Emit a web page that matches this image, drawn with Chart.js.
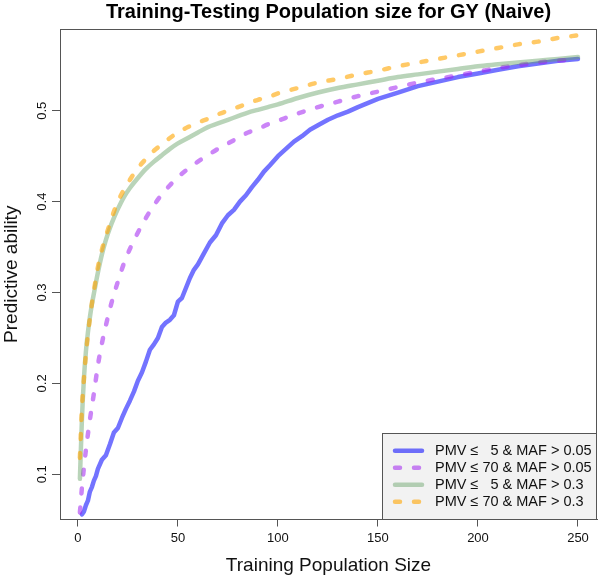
<!DOCTYPE html>
<html><head><meta charset="utf-8">
<script src="https://cdn.jsdelivr.net/npm/chart.js@4.4.1/dist/chart.umd.min.js"></script>
<style>html,body{margin:0;padding:0;background:#fff}canvas{display:block}</style>
</head><body>
<canvas id="c" width="600" height="578"></canvas>
<script>
const titleText = 'Training-Testing Population size for GY (Naive)';
const xTitle = 'Training Population Size';
const yTitle = 'Predictive ability';
const seriesLabels = ['PMV \u2264   5 & MAF > 0.05', 'PMV \u2264 70 & MAF > 0.05', 'PMV \u2264   5 & MAF > 0.3', 'PMV \u2264 70 & MAF > 0.3'];
const xTicks = [0, 50, 100, 150, 200, 250];
const yTicks = [0.1, 0.2, 0.3, 0.4, 0.5];

const xBlue = [2,3,4,5,6,7,8,9,10,12,14,16,18,20,22,24,26,28,30,32,34,36,38,40,42,44,46,48,50,52,54,56,58,60,63,66,69,72,75,78,81,84,87,90,93,96,100,104,108,112,116,120,125,130,135,140,150,160,170,180,190,200,210,220,230,240,250];
const yBlue = [0.056,0.059,0.066,0.071,0.081,0.086,0.093,0.098,0.106,0.116,0.121,0.133,0.146,0.151,0.162,0.172,0.181,0.191,0.203,0.212,0.224,0.237,0.243,0.25,0.262,0.267,0.27,0.275,0.29,0.294,0.305,0.316,0.325,0.331,0.343,0.355,0.363,0.376,0.385,0.391,0.4,0.407,0.416,0.424,0.433,0.44,0.45,0.458,0.466,0.472,0.479,0.484,0.49,0.495,0.499,0.504,0.513,0.52,0.527,0.532,0.537,0.541,0.545,0.549,0.552,0.555,0.557];

const xOther = [1,2,3,4,5,6,7,8,10,12,14,16,18,20,23,26,30,34,38,42,46,50,55,60,65,70,75,80,85,90,95,100,110,120,130,140,150,160,170,180,190,200,210,220,230,240,250];
const yPurple = [0.058,0.085,0.107,0.127,0.144,0.16,0.175,0.189,0.22,0.244,0.264,0.282,0.298,0.312,0.332,0.348,0.366,0.382,0.396,0.408,0.418,0.427,0.436,0.444,0.451,0.458,0.464,0.47,0.476,0.48,0.485,0.489,0.497,0.504,0.51,0.516,0.521,0.526,0.531,0.535,0.539,0.543,0.547,0.55,0.553,0.555,0.557];
const yGreen = [0.095,0.16,0.205,0.235,0.256,0.273,0.287,0.299,0.322,0.342,0.358,0.371,0.382,0.392,0.405,0.415,0.426,0.436,0.444,0.451,0.458,0.464,0.47,0.476,0.482,0.486,0.49,0.494,0.498,0.501,0.504,0.507,0.514,0.52,0.525,0.529,0.533,0.537,0.54,0.543,0.546,0.549,0.551,0.553,0.555,0.557,0.559];
const yOrange = [0.118,0.172,0.205,0.232,0.253,0.272,0.288,0.302,0.328,0.347,0.362,0.376,0.389,0.4,0.413,0.424,0.437,0.447,0.456,0.463,0.47,0.476,0.482,0.487,0.491,0.496,0.5,0.504,0.508,0.512,0.515,0.519,0.525,0.531,0.535,0.54,0.544,0.549,0.553,0.557,0.561,0.565,0.569,0.573,0.576,0.58,0.583];

const colors = ['rgba(0,0,255,0.55)', 'rgba(160,32,240,0.55)', 'rgba(100,160,100,0.45)', 'rgba(255,165,0,0.6)'];
const dashes = [[], [5, 14], [], [5, 14]];
const LW = 4.5;
const FONT = "'Liberation Sans', Arial, Helvetica, sans-serif";

const pts = (xs, ys) => xs.map((x, i) => ({x: x, y: ys[i]}));
const seriesData = [pts(xBlue, yBlue), pts(xOther, yPurple), pts(xOther, yGreen), pts(xOther, yOrange)];

const datasets = seriesData.map((d, i) => ({
  label: seriesLabels[i],
  data: d,
  borderColor: colors[i],
  backgroundColor: colors[i],
  borderWidth: LW,
  borderDash: dashes[i],
  borderCapStyle: 'round',
  borderJoinStyle: 'round',
  pointRadius: 0,
  tension: 0,
  cubicInterpolationMode: i === 0 ? 'default' : 'monotone',
  fill: false,
  order: 4 - i
}));

const boxPlugin = {
  id: 'rbox',
  afterDatasetsDraw(chart) {
    const {ctx, chartArea: ca} = chart;
    ctx.save();
    ctx.strokeStyle = '#555';
    ctx.lineWidth = 1;
    ctx.strokeRect(Math.round(ca.left) + 0.5, Math.round(ca.top) + 0.5, Math.round(ca.right - ca.left) - 1, Math.round(ca.bottom - ca.top) - 1);
    // legend
    const x0 = Math.round(ca.right - 215) + 0.5, y0 = Math.round(ca.bottom - 87) + 0.5;
    const x1 = Math.round(ca.right) - 0.5, y1 = Math.round(ca.bottom) - 0.5;
    ctx.fillStyle = '#f2f2f2';
    ctx.fillRect(x0, y0, x1 - x0, y1 - y0);
    ctx.strokeRect(x0, y0, x1 - x0, y1 - y0);
    ctx.font = '14.5px ' + FONT;
    ctx.textBaseline = 'middle';
    ctx.textAlign = 'left';
    chart.data.datasets.forEach((ds, i) => {
      const yy = y0 + 17.3 + i * 17;
      ctx.save();
      ctx.strokeStyle = ds.borderColor;
      ctx.lineWidth = LW;
      ctx.lineCap = 'round';
      ctx.setLineDash(ds.borderDash);
      ctx.beginPath();
      ctx.moveTo(x0 + 12.5, yy);
      ctx.lineTo(x0 + 39.5, yy);
      ctx.stroke();
      ctx.restore();
      ctx.fillStyle = '#111';
      ctx.fillText(ds.label, x0 + 52.5, yy);
    });
    ctx.restore();
  }
};

new Chart(document.getElementById('c'), {
  type: 'line',
  data: {datasets: datasets},
  options: {
    responsive: false,
    animation: false,
    devicePixelRatio: 1,
    layout: {padding: {left: 0, right: 3, top: 0, bottom: 0}},
    plugins: {
      legend: {display: false},
      tooltip: {enabled: false},
      title: {
        display: true, text: titleText, fullSize: false, color: '#000',
        font: {family: FONT, size: 20, weight: 'bold'},
        padding: {top: 0, bottom: 5}
      }
    },
    scales: {
      x: {
        type: 'linear', min: -8.95, max: 259.5,
        afterBuildTicks: s => { s.ticks = xTicks.map(v => ({value: v})); },
        afterFit: s => { s.height = 58.5; },
        grid: {drawOnChartArea: false, drawTicks: true, tickLength: 7, color: '#555', lineWidth: 1},
        border: {display: true, color: '#555', width: 1},
        ticks: {font: {family: FONT, size: 13}, color: '#111', padding: 4, maxRotation: 0, autoSkip: false},
        title: {display: true, text: xTitle, color: '#111', font: {family: FONT, size: 19}, padding: {top: 0, bottom: 1}}
      },
      y: {
        type: 'linear', min: 0.0503, max: 0.5899,
        afterBuildTicks: s => { s.ticks = yTicks.map(v => ({value: v})); },
        afterFit: s => { s.width = 60; },
        grid: {drawOnChartArea: false, drawTicks: true, tickLength: 8, color: '#555', lineWidth: 1},
        border: {display: true, color: '#555', width: 1},
        ticks: {font: {family: FONT, size: 13}, color: '#111', padding: 1, minRotation: 90, maxRotation: 90, crossAlign: 'center', autoSkip: false, callback: v => v.toFixed(1)},
        title: {display: true, text: yTitle, color: '#111', font: {family: FONT, size: 19}, padding: {top: 0, bottom: 0}}
      }
    }
  },
  plugins: [boxPlugin]
});
</script>
</body></html>
